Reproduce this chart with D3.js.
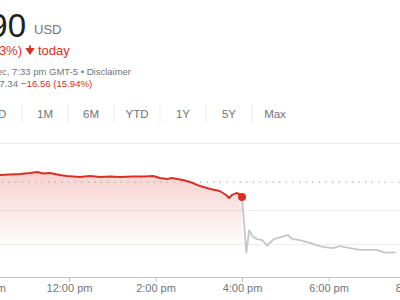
<!DOCTYPE html>
<html>
<head>
<meta charset="utf-8">
<script src="https://cdn.jsdelivr.net/npm/d3@7"></script>
<style>
  html, body { margin: 0; padding: 0; background: #fff; }
  svg { display: block; font-family: "Liberation Sans", Arial, sans-serif; }
</style>
</head>
<body>
<div id="chart"></div>
<script>
// regular session (red) and after hours (grey)
const sessionTimes = ['09:30', '09:56', '10:24', '10:38', '10:52', '11:06', '11:16', '11:24', '11:34', '11:47',
	'11:57', '12:15', '12:29', '12:43', '12:57', '13:11', '13:29', '13:45', '13:57', '14:06',
	'14:16', '14:23', '14:30', '14:38', '14:48', '15:02', '15:16', '15:29', '15:38', '15:42',
	'15:46', '15:52', '15:56', '16:00']
const sessionPrices = [109.55, 110.15, 110.45, 110.6, 110.75, 111.04, 111.34, 110.9, 111.04, 110.45,
	110.15, 109.85, 110.15, 109.85, 110.0, 109.85, 110.0, 110.0, 110.15, 109.55,
	109.25, 109.55, 109.25, 108.96, 108.36, 107.16, 106.27, 105.67, 104.48, 103.58,
	104.48, 105.07, 104.78, 103.90]

const afterTimes = ['16:00', '16:06', '16:10', '16:15', '16:21', '16:28', '16:35', '16:44', '16:55', '17:04',
	'17:09', '17:20', '17:34', '17:48', '17:55', '18:06', '18:16', '18:30', '18:44', '19:07',
	'19:18', '19:33']
const afterPrices = [103.90, 87.3, 94.0, 92.0, 91.3, 91.0, 89.4, 91.3, 92.0, 92.5,
	91.4, 91.0, 90.2, 89.2, 88.9, 88.6, 89.2, 88.6, 88.1, 88.1,
	87.3, 87.34]

const prevClose = 108.35
const gridPrices = [90, 100]
const xTicks = ['10:00', '12:00', '14:00', '16:00', '18:00', '20:00']
const xTickLabels = ['10:00 am', '12:00 pm', '2:00 pm', '4:00 pm', '6:00 pm', '8:00 pm']
const tabs = ['1D', '5D', '1M', '6M', 'YTD', '1Y', '5Y', 'Max']

const width = 400
	, height = 300
	, red = '#d93025'
	, grey = '#70757a'
	, parse = d3.timeParse('%H:%M')

const svg = d3.select('#chart').append('svg')
	.attr('width', width)
	.attr('height', height)

/* header */
const head = svg.append('g')

head.append('text')
	.attr('x', 26).attr('y', 37)
	.attr('text-anchor', 'end')
	.attr('font-size', 33)
	.attr('fill', '#202124')
	.text('103.90')

head.append('text')
	.attr('x', 34).attr('y', 34)
	.attr('font-size', 13)
	.attr('fill', grey)
	.text('USD')

head.append('text')
	.attr('x', 22).attr('y', 55)
	.attr('text-anchor', 'end')
	.attr('font-size', 13)
	.attr('fill', red)
	.text('−4.45 (4.13%)')

// down arrow
head.append('path')
	.attr('d', 'M30,45.5 L30,51 M27,49 L30,53.5 L33,49 Z')
	.attr('stroke', red)
	.attr('stroke-width', 1.8)
	.attr('fill', red)

head.append('text')
	.attr('x', 38).attr('y', 55)
	.attr('font-size', 13)
	.attr('fill', red)
	.text('today')

head.append('text')
	.attr('x', 131).attr('y', 75)
	.attr('text-anchor', 'end')
	.attr('font-size', 9.5)
	.attr('fill', grey)
	.text('Closed: 15 Dec, 7:33 pm GMT-5 • Disclaimer')

head.append('text')
	.attr('x', 18).attr('y', 87)
	.attr('text-anchor', 'end')
	.attr('font-size', 9.6)
	.attr('fill', grey)
	.text('After hours 87.34')

head.append('text')
	.attr('x', 21).attr('y', 87)
	.attr('font-size', 9.6)
	.attr('fill', red)
	.text('−16.56 (15.94%)')

/* range tabs */
const tabX = d3.scalePoint()
	.domain(tabs)
	.range([-47, 275])

const tabG = svg.append('g')

tabG.selectAll('text')
	.data(tabs)
	.join('text')
	  .attr('x', d => tabX(d))
	  .attr('y', 118)
	  .attr('text-anchor', 'middle')
	  .attr('font-size', 11.5)
	  .attr('fill', grey)
	  .text(d => d)

tabG.selectAll('line')
	.data(tabs.slice(1))
	.join('line')
	  .attr('x1', d => tabX(d) - tabX.step() / 2)
	  .attr('x2', d => tabX(d) - tabX.step() / 2)
	  .attr('y1', 104)
	  .attr('y2', 123)
	  .attr('stroke', '#ececec')

svg.append('line')
	.attr('x1', 0).attr('x2', width)
	.attr('y1', 143.5).attr('y2', 143.5)
	.attr('stroke', '#eeeeee')

/* chart */
const x = d3.scaleTime()
	.domain([parse('12:00'), parse('16:00')])
	.range([69, 242])

const y = d3.scaleLinear()
	.domain([80, 100])
	.range([277, 210])

const session = sessionTimes.map((t, i) => ({ t: parse(t), v: sessionPrices[i] }))
const after = afterTimes.map((t, i) => ({ t: parse(t), v: afterPrices[i] }))

const defs = svg.append('defs')
const grad = defs.append('linearGradient')
	.attr('id', 'fade')
	.attr('gradientUnits', 'userSpaceOnUse')
	.attr('x1', 0).attr('x2', 0)
	.attr('y1', y(111.5)).attr('y2', y(88))
grad.append('stop').attr('offset', 0).attr('stop-color', red).attr('stop-opacity', 0.22)
grad.append('stop').attr('offset', 1).attr('stop-color', red).attr('stop-opacity', 0)

// grid
svg.append('g')
	.selectAll('line')
	.data(gridPrices)
	.join('line')
	  .attr('x1', 0).attr('x2', width)
	  .attr('y1', d => Math.round(y(d)) + 0.5)
	  .attr('y2', d => Math.round(y(d)) + 0.5)
	  .attr('stroke', '#eeeeee')

// fill under session line
svg.append('path')
	.datum(session)
	.attr('fill', 'url(#fade)')
	.attr('d', d3.area()
		.x(d => x(d.t))
		.y0(y(80))
		.y1(d => y(d.v)))

// previous close
svg.append('line')
	.attr('x1', 2).attr('x2', width)
	.attr('y1', y(prevClose)).attr('y2', y(prevClose))
	.attr('stroke', '#a6a6a6')
	.attr('stroke-width', 1.2)
	.attr('stroke-dasharray', '1.2,5.4')

const line = d3.line()
	.x(d => x(d.t))
	.y(d => y(d.v))

svg.append('path')
	.datum(after)
	.attr('fill', 'none')
	.attr('stroke', '#c6c6c6')
	.attr('stroke-width', 1.8)
	.attr('stroke-linejoin', 'round')
	.attr('d', line)

svg.append('path')
	.datum(session)
	.attr('fill', 'none')
	.attr('stroke', red)
	.attr('stroke-width', 1.9)
	.attr('stroke-linejoin', 'round')
	.attr('d', line)

const last = session[session.length - 1]
svg.append('circle')
	.attr('cx', x(last.t))
	.attr('cy', y(last.v))
	.attr('r', 4)
	.attr('fill', red)

// x axis
svg.append('line')
	.attr('x1', 0).attr('x2', width)
	.attr('y1', 277.5).attr('y2', 277.5)
	.attr('stroke', '#c4c4c4')

const xAxis = svg.append('g')
	.attr('transform', 'translate(0,277)')
	.call(d3.axisBottom(x)
		.tickValues(xTicks.map(parse))
		.tickFormat((d, i) => xTickLabels[i])
		.tickSize(5)
		.tickPadding(2))

xAxis.select('.domain').remove()
xAxis.selectAll('.tick line').attr('stroke', '#c4c4c4')
xAxis.selectAll('.tick text')
	.attr('fill', grey)
	.attr('font-size', 11)
	.attr('font-family', '"Liberation Sans", Arial, sans-serif')
</script>
</body>
</html>
